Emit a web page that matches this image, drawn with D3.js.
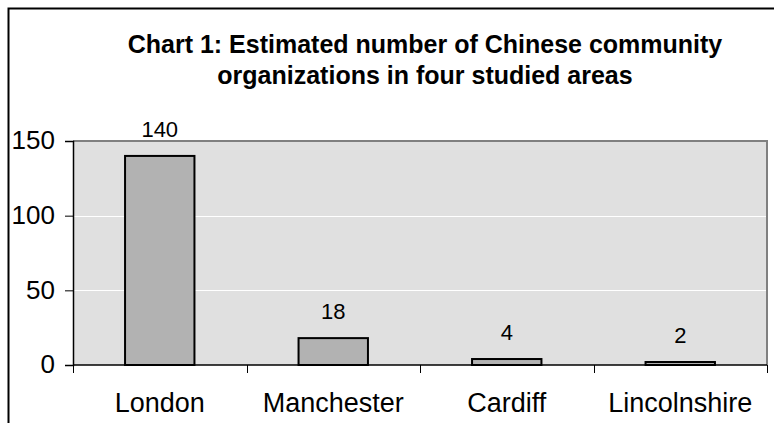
<!DOCTYPE html>
<html>
<head>
<meta charset="utf-8">
<script src="https://cdn.jsdelivr.net/npm/d3@7"></script>
<style>
  html, body { margin: 0; padding: 0; background: #ffffff; }
  svg { display: block; font-family: "Liberation Sans", Arial, sans-serif; }
</style>
</head>
<body>
<svg id="chart" width="774" height="423"></svg>
<script>
// Chart data
const titleLines = [
  "Chart 1: Estimated number of Chinese community",
  "organizations in four studied areas"
];
const areas = ["London", "Manchester", "Cardiff", "Lincolnshire"];
const counts = [140, 18, 4, 2];
const yTicks = [0, 50, 100, 150];

const svg = d3.select("#chart");

// Plot area bounds
const plot = { left: 73, right: 767, top: 141, bottom: 365 };

// Outer chart frame (runs past the right and bottom edges)
svg.append("rect")
  .attr("x", 8.5).attr("y", 8.5)
  .attr("width", 900).attr("height", 600)
  .attr("fill", "#ffffff")
  .attr("stroke", "#000000")
  .attr("stroke-width", 2);

// Title
svg.append("text")
  .attr("x", 425)
  .attr("text-anchor", "middle")
  .attr("font-weight", "bold")
  .attr("font-size", 25)
  .attr("fill", "#000")
  .selectAll("tspan")
  .data(titleLines)
  .join("tspan")
  .attr("x", 425)
  .attr("y", (d, i) => 53 + i * 31)
  .text(d => d);

const x = d3.scaleBand()
  .domain(areas)
  .range([plot.left, plot.right])
  .paddingInner(0.6)
  .paddingOuter(0.3);

const y = d3.scaleLinear()
  .domain([0, 150])
  .range([plot.bottom, plot.top]);

// Plot background
svg.append("rect")
  .attr("x", plot.left).attr("y", plot.top)
  .attr("width", plot.right - plot.left)
  .attr("height", plot.bottom - plot.top)
  .attr("fill", "#e0e0e0");

// Gridlines
svg.append("g")
  .selectAll("line")
  .data(yTicks.filter(t => t > 0 && t < 150))
  .join("line")
  .attr("x1", plot.left).attr("x2", plot.right)
  .attr("y1", d => Math.round(y(d)) + 0.5)
  .attr("y2", d => Math.round(y(d)) + 0.5)
  .attr("stroke", "#ffffff")
  .attr("stroke-width", 1);

// Plot border (top and right)
svg.append("path")
  .attr("d", `M${plot.left},${plot.top} H${plot.right} V${plot.bottom}`)
  .attr("fill", "none")
  .attr("stroke", "#808080")
  .attr("stroke-width", 2);

// Bars
svg.append("g")
  .selectAll("rect")
  .data(counts)
  .join("rect")
  .attr("x", (d, i) => x(areas[i]))
  .attr("y", d => y(d))
  .attr("width", x.bandwidth())
  .attr("height", d => y(0) - y(d))
  .attr("fill", "#b2b2b2")
  .attr("stroke", "#000000")
  .attr("stroke-width", 2);

// Value labels
svg.append("g")
  .selectAll("text")
  .data(counts)
  .join("text")
  .attr("x", (d, i) => x(areas[i]) + x.bandwidth() / 2)
  .attr("y", d => y(d) - 19)
  .attr("text-anchor", "middle")
  .attr("font-size", 22)
  .attr("fill", "#000")
  .text(d => d);

// Y axis
const yAxis = svg.append("g")
  .attr("transform", `translate(${plot.left},0)`)
  .call(d3.axisLeft(y).tickValues(yTicks).tickSize(8).tickPadding(10));
yAxis.select(".domain").attr("stroke", "#000").attr("stroke-width", 1.5);
yAxis.selectAll(".tick line").attr("stroke", "#000");
yAxis.selectAll(".tick text")
  .attr("font-size", 26)
  .attr("font-family", "'Liberation Sans', Arial, sans-serif")
  .attr("fill", "#000")
  .attr("dy", "0.3em");

// X axis with ticks at category boundaries
const boundaries = d3.range(areas.length + 1).map(i => plot.left + i * x.step());
const xAxisG = svg.append("g");
xAxisG.append("line")
  .attr("x1", plot.left).attr("x2", plot.right)
  .attr("y1", plot.bottom).attr("y2", plot.bottom)
  .attr("stroke", "#000").attr("stroke-width", 1.5);
xAxisG.selectAll("line.tick")
  .data(boundaries)
  .join("line")
  .attr("class", "tick")
  .attr("x1", d => Math.round(d) + 0.5).attr("x2", d => Math.round(d) + 0.5)
  .attr("y1", plot.bottom).attr("y2", plot.bottom + 8)
  .attr("stroke", "#000");
xAxisG.selectAll("text")
  .data(areas)
  .join("text")
  .attr("x", d => x(d) + x.bandwidth() / 2)
  .attr("y", 412)
  .attr("text-anchor", "middle")
  .attr("font-size", 27)
  .attr("fill", "#000")
  .text(d => d);
</script>
</body>
</html>
